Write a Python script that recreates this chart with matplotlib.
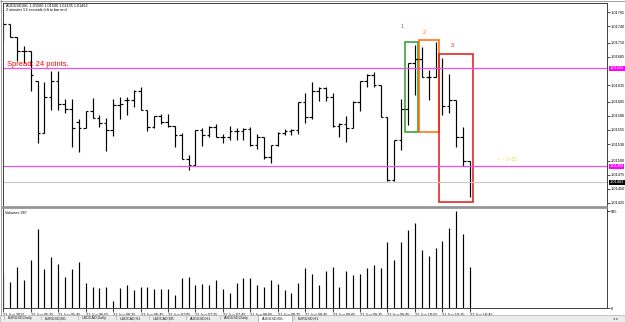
import matplotlib.pyplot as plt
from matplotlib.collections import LineCollection
from matplotlib.patches import Rectangle

plt.rcParams['font.family'] = ['Liberation Sans', 'DejaVu Sans']

W, H = 625, 322

# AUDUSD M5 bars, 21 Jun 2011 05:05 .. 10:45, prices in points (0.00001)
opens = [101733, 101743, 101720, 101696, 101696, 101642, 101550, 101614, 101642, 101602,
         101592, 101570, 101558, 101589, 101576, 101567, 101555, 101599, 101608, 101608,
         101625, 101591, 101561, 101579, 101570, 101562, 101546, 101503, 101493, 101555,
         101546, 101560, 101543, 101543, 101554, 101554, 101556, 101528, 101543, 101506,
         101528, 101550, 101554, 101555, 101604, 101578, 101624, 101629, 101613, 101562,
         101566, 101558, 101605, 101643, 101652, 101635, 101578, 101466, 101538, 101592,
         101674, 101681, 101650, 101650, 101665, 101598, 101608, 101543, 101500]
highs = [101745, 101744, 101720, 101704, 101696, 101642, 101641, 101660, 101660, 101611,
         101610, 101575, 101589, 101612, 101582, 101576, 101610, 101614, 101614, 101626,
         101632, 101591, 101580, 101583, 101583, 101562, 101550, 101510, 101555, 101559,
         101562, 101565, 101548, 101562, 101558, 101558, 101560, 101548, 101543, 101528,
         101552, 101556, 101556, 101605, 101621, 101640, 101632, 101632, 101621, 101567,
         101579, 101607, 101643, 101654, 101659, 101635, 101578, 101538, 101610, 101674,
         101706, 101703, 101662, 101712, 101683, 101655, 101608, 101560, 101500]
lows = [101714, 101720, 101677, 101675, 101625, 101532, 101550, 101591, 101591, 101586,
        101524, 101515, 101558, 101576, 101560, 101518, 101544, 101574, 101582, 101596,
        101591, 101554, 101558, 101566, 101561, 101524, 101503, 101483, 101491, 101526,
        101542, 101542, 101532, 101537, 101537, 101537, 101526, 101522, 101503, 101497,
        101526, 101546, 101546, 101548, 101568, 101574, 101607, 101607, 101561, 101542,
        101534, 101558, 101588, 101631, 101632, 101578, 101465, 101465, 101519, 101564,
        101617, 101649, 101608, 101649, 101582, 101585, 101524, 101490, 101435]
closes = [101743, 101720, 101696, 101696, 101652, 101550, 101614, 101642, 101602, 101592,
          101558, 101558, 101589, 101576, 101567, 101555, 101599, 101601, 101608, 101625,
          101591, 101561, 101579, 101570, 101562, 101546, 101503, 101493, 101555, 101546,
          101560, 101543, 101543, 101554, 101554, 101556, 101528, 101543, 101506, 101528,
          101550, 101554, 101555, 101604, 101578, 101624, 101629, 101613, 101562, 101566,
          101558, 101605, 101643, 101652, 101635, 101578, 101466, 101538, 101592, 101674,
          101681, 101650, 101650, 101665, 101598, 101608, 101543, 101500, 101462]
volumes = [333, 248, 390, 264, 459, 752, 368, 484, 415, 292, 368, 434, 236, 198, 186, 195,
           66, 189, 217, 170, 195, 201, 179, 179, 179, 123, 280, 292, 220, 231, 218, 264,
           179, 141, 236, 289, 280, 220, 198, 264, 226, 170, 141, 236, 377, 321, 217, 355,
           390, 198, 355, 314, 321, 377, 412, 377, 629, 453, 623, 737, 805, 547, 494, 566,
           632, 755, 915, 705, 387]

time_labels = ['21 Jun 2011', '21 Jun 05:25', '21 Jun 05:45', '21 Jun 06:05', '21 Jun 06:25',
               '21 Jun 06:45', '21 Jun 07:05', '21 Jun 07:25', '21 Jun 07:45', '21 Jun 08:05',
               '21 Jun 08:25', '21 Jun 08:45', '21 Jun 09:05', '21 Jun 09:25', '21 Jun 09:45',
               '21 Jun 10:05', '21 Jun 10:25', '21 Jun 10:45']
price_ticks = [1.01765, 1.01740, 1.01710, 1.01685, 1.01635, 1.01605, 1.01580, 1.01555,
               1.01530, 1.01500, 1.01475, 1.01450, 1.01425]
level_hi = 1.01665
level_lo = 1.01490
last_price = 1.01462
header = 'AUDUSD,M5  1.01500 1.01500 1.01435 1.01462'
timer = '2 minutes 52 seconds left to bar end'
tabs = ['EURUSD,Daily', 'EURUSD,M5', 'USDCAD,Daily', 'USDCAD,H1', 'USDCAD,M5',
        'AUDUSD,H1', 'AUDUSD,Daily', 'AUDUSD,M5', 'EURUSD,H1']
active_tab = 'AUDUSD,M5'

# marked groups: (first bar, last bar, low, high, label, colour)
groups = [(59, 60, 1.01551, 1.01712, '1', '#2a9d2a'),
          (61, 63, 1.01551, 1.01715, '2', '#ff6a00'),
          (64, 68, 1.01427, 1.01690, '3', '#e01818')]

P = 1e-5
n = len(opens)


def fx(x):
    return x / W


def fy(y):
    return 1 - y / H


fig = plt.figure(figsize=(W / 100, H / 100), dpi=100)
fig.patch.set_facecolor('white')

ax = fig.add_axes([fx(2.5), fy(206.7), fx(607) - fx(2.5), fy(3.3) - fy(206.7)])
axv = fig.add_axes([fx(2.5), fy(308), fx(607) - fx(2.5), fy(208) - fy(308)])

# price bars
segs = []
for i in range(n):
    o, h, l, c = opens[i] * P, highs[i] * P, lows[i] * P, closes[i] * P
    segs.append([(i, l), (i, h)])
    segs.append([(i - 0.38, o), (i, o)])
    segs.append([(i, c), (i + 0.38, c)])
ax.add_collection(LineCollection(segs, colors='black', linewidths=0.85))

ax.axhline(level_hi, color='#f050f0', lw=0.9)
ax.axhline(level_lo, color='#f050f0', lw=0.9)
ax.axhline(last_price, color='#c8c8c8', lw=0.8)

for b0, b1, lo, hi, lab, col in groups:
    ax.add_patch(Rectangle((b0 - 0.45, lo), b1 - b0 + 0.9, hi - lo,
                           fill=False, edgecolor=col, lw=1.1))

ax.set_xlim(-0.12, 88.0)
ax.set_ylim(1.014184, 1.017805)
ax.set_xticks([])
ax.yaxis.tick_right()
ax.set_yticks(price_ticks)
ax.set_yticklabels([f'{p:.5f}' for p in price_ticks])
ax.tick_params(axis='y', length=2, width=0.5, labelsize=2.8, pad=1.0)
for s in ax.spines.values():
    s.set_color('#404040')
    s.set_linewidth(0.7)
ax.spines['bottom'].set_color('#909090')
ax.spines['bottom'].set_linewidth(1.2)

tr = ax.get_yaxis_transform()
for val, bg in [(level_hi, '#ff00ff'), (level_lo, '#ff00ff'), (last_price, 'black')]:
    ax.text(1.0045, val, f'{val:.5f}', transform=tr, fontsize=2.8, color='white',
            va='center', ha='left',
            bbox=dict(boxstyle='square,pad=0.12', fc=bg, ec='none'))

# volume bars
axv.vlines(range(n), 0, volumes, colors='black', lw=0.85)
axv.set_xlim(-0.12, 88.0)
axv.set_ylim(0, 948)
axv.yaxis.tick_right()
axv.set_yticks([0, 915])
axv.set_yticklabels(['0', '915'])
axv.tick_params(axis='y', length=2, width=0.5, labelsize=2.8, pad=1.0)
axv.set_xticks(range(0, n, 4))
axv.set_xticklabels(time_labels, ha='left')
axv.tick_params(axis='x', length=3, width=0.5, labelsize=2.8, pad=0.6)
for s in axv.spines.values():
    s.set_color('#404040')
    s.set_linewidth(0.7)
axv.spines['top'].set_color('#909090')
axv.spines['top'].set_linewidth(1.2)

# texts on the chart
fig.text(fx(6), fy(5.5), header, fontsize=2.7, va='center')
fig.text(fx(6), fy(10), timer, fontsize=2.7, va='center')
fig.text(fx(7), fy(64), 'Spread: 24 points.', fontsize=5.4, color='#ff0000', va='center')
fig.text(fx(5), fy(213), 'Volumes 387', fontsize=2.7, va='center')
fig.text(fx(402.5), fy(27), '1', fontsize=3.8, color='#2a9d2a', ha='center', va='center')
fig.text(fx(424.5), fy(33), '2', fontsize=3.8, color='#ff6a00', ha='center', va='center')
fig.text(fx(452), fy(45.5), '3', fontsize=3.8, color='#e01818', ha='center', va='center')
fig.text(fx(497), fy(159.5), '<- - 2+52', fontsize=3.6, color='#e8dc50', va='center')

# outer frame
fig.add_artist(plt.Line2D([fx(0.5), fx(0.5)], [fy(0), fy(315)], color='#909090', lw=0.6))
fig.add_artist(plt.Line2D([fx(0), fx(625)], [fy(0.5), fy(0.5)], color='#909090', lw=0.6))

# tab bar
fig.add_artist(Rectangle((0, 0), 1, fy(315), transform=fig.transFigure,
                         fc='#ececec', ec='#a0a0a0', lw=0.4))
tab_x = [8, 45, 82, 120, 153, 190, 224, 262, 298]
for tx, name in zip(tab_x, tabs):
    if name == active_tab:
        fig.add_artist(Rectangle((fx(tx - 4), 0), fx(34), fy(314.5), transform=fig.transFigure,
                                 fc='white', ec='#808080', lw=0.4))
    else:
        fig.text(fx(tx - 4), fy(318.5), '|', fontsize=2.8, color='#808080', va='center')
    fig.text(fx(tx), fy(318.5), name, fontsize=2.7, va='center', color='#202020')
fig.text(fx(613), fy(319), '\u25c2 \u25b8', fontsize=3, color='#606060', va='center')

plt.savefig('out.png', dpi=100)
